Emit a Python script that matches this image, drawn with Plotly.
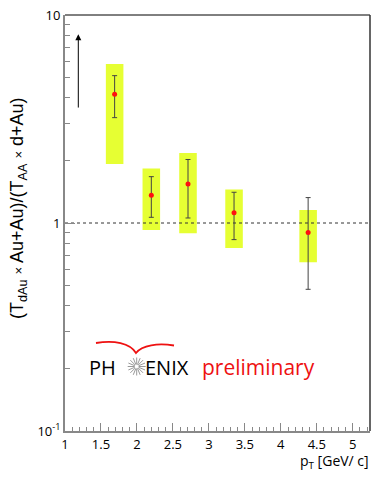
import math
import plotly.graph_objects as go

# ---- data ----
pt = [1.69, 2.20, 2.71, 3.35, 4.38]
ratio = [4.16, 1.36, 1.54, 1.12, 0.90]
stat_hi = [5.11, 1.67, 2.02, 1.405, 1.325]
stat_lo = [3.21, 1.065, 1.057, 0.832, 0.48]
sys_hi = [5.81, 1.83, 2.17, 1.45, 1.155]
sys_lo = [1.92, 0.925, 0.892, 0.758, 0.647]
arrow_x = 1.185
arrow_top = 8.08
arrow_bottom = 3.53
x_ticks = [1, 1.5, 2, 2.5, 3, 3.5, 4, 4.5, 5]
x_tick_text = ["1", "1.5", "2", "2.5", "3", "3.5", "4", "4.5", "5"]
y_ticks = [0.1, 1, 10]
y_tick_text = ["10<sup>-1</sup>", "1", "10"]

# ---- layout geometry (pixels) ----
W, H = 382, 478
L, R, T, B = 65, 12, 15, 47
PW, PH = W - L - R, H - T - B


def px(x):
    return (x - L) / PW


def py(y):
    return (H - B - y) / PH


FONT = "Open Sans"
half_w = 0.122

fig = go.Figure()

# systematic boxes
for xi, lo, hi in zip(pt, sys_lo, sys_hi):
    fig.add_trace(go.Scatter(
        x=[xi - half_w, xi + half_w, xi + half_w, xi - half_w, xi - half_w],
        y=[lo, lo, hi, hi, lo], mode="lines", fill="toself",
        fillcolor="#e6ff33", line=dict(width=0, color="#e6ff33"),
        hoverinfo="skip", showlegend=False))

# reference line at 1
fig.add_trace(go.Scatter(x=[1, 5.24], y=[1, 1], mode="lines",
                         line=dict(color="#333333", width=1, dash="3px,3px"),
                         showlegend=False, hoverinfo="skip"))

# points with stat errors
fig.add_trace(go.Scatter(
    x=pt, y=ratio, mode="markers",
    marker=dict(color="#ff1010", size=5),
    error_y=dict(type="data", symmetric=False,
                 array=[h - v for h, v in zip(stat_hi, ratio)],
                 arrayminus=[v - l for l, v in zip(stat_lo, ratio)],
                 color="#444444", thickness=1, width=2.5),
    showlegend=False))

annotations = []
# arrow
annotations.append(dict(x=arrow_x, y=math.log10(arrow_top), ax=arrow_x,
                        ay=math.log10(arrow_bottom), xref="x", yref="y",
                        axref="x", ayref="y", showarrow=True, arrowhead=2,
                        arrowsize=1.2, arrowwidth=1, arrowcolor="black", text=""))
# y title
annotations.append(dict(
    x=px(18), y=py(208), xref="paper", yref="paper", showarrow=False,
    textangle=-90, xanchor="center", yanchor="middle",
    text="(T<sub>dAu</sub> <span style='font-size:13px'>×</span> Au+Au)/(T<sub>AA</sub> <span style='font-size:13px'>×</span> d+Au)",
    font=dict(family="Liberation Sans", size=18, color="black")))
# x title
annotations.append(dict(
    x=px(371), y=py(461), xref="paper", yref="paper", showarrow=False,
    xanchor="right", yanchor="middle",
    text="p<sub>T</sub> [GeV/ c]",
    font=dict(family=FONT, size=14, color="black")))
# logo text
annotations.append(dict(x=px(87), y=py(367), xref="paper", yref="paper",
                        showarrow=False, xanchor="left", yanchor="middle",
                        text="PH", font=dict(family=FONT, size=20, color="black")))
annotations.append(dict(x=px(143), y=py(367), xref="paper", yref="paper",
                        showarrow=False, xanchor="left", yanchor="middle",
                        text="ENIX", font=dict(family=FONT, size=20, color="black")))
annotations.append(dict(x=px(200), y=py(367), xref="paper", yref="paper",
                        showarrow=False, xanchor="left", yanchor="middle",
                        text="preliminary",
                        font=dict(family=FONT, size=21, color="#ee1111")))

shapes = []
# top and right frame lines
shapes.append(dict(type="line", xref="paper", yref="paper", x0=0, x1=1, y0=1, y1=1,
                   line=dict(color="black", width=1)))
shapes.append(dict(type="line", xref="paper", yref="paper", x0=1, x1=1, y0=0, y1=1,
                   line=dict(color="#333333", width=1.5)))
# starburst
cx, cy, r = 136.7, 366.5, 9
for k in range(16):
    a = math.pi * k / 8
    shapes.append(dict(type="line", xref="paper", yref="paper",
                       x0=px(cx + 2 * math.cos(a)), y0=py(cy + 2 * math.sin(a)),
                       x1=px(cx + r * math.cos(a)), y1=py(cy + r * math.sin(a)),
                       line=dict(color="#999999", width=1)))
# red gull arc
path = "M {} {} C {} {} {} {} {} {} C {} {} {} {} {} {}".format(
    px(96), py(343), px(114), py(340), px(130), py(343), px(136), py(353),
    px(142), py(345), px(158), py(343), px(174), py(345.5))
shapes.append(dict(type="path", xref="paper", yref="paper", path=path,
                   line=dict(color="#ee1111", width=1.8)))

fig.update_layout(
    width=W, height=H, margin=dict(l=L, r=R, t=T, b=B, autoexpand=False),
    plot_bgcolor="white", paper_bgcolor="white",
    annotations=annotations, shapes=shapes,
    xaxis=dict(range=[1, 5.24], tickvals=x_ticks, ticktext=x_tick_text,
               ticks="inside", ticklen=8, tickcolor="#888888", tickwidth=1,
               showline=True, linecolor="#888888", linewidth=2,
               showgrid=False, zeroline=False, automargin=False,
               tickfont=dict(family=FONT, size=13, color="black"),
               minor=dict(ticks="inside", ticklen=4, dtick=0.1, tickcolor="#888888",
                          showgrid=False)),
    yaxis=dict(type="log", range=[-1, 1], tickvals=y_ticks, ticktext=y_tick_text,
               ticks="inside", ticklen=10, tickcolor="#888888", tickwidth=1,
               showline=True, linecolor="#888888", linewidth=2,
               showgrid=False, zeroline=False, automargin=False,
               tickfont=dict(family=FONT, size=13, color="black"),
               minor=dict(ticks="inside", ticklen=5, tickcolor="#888888",
                          tickvals=[0.2, 0.3, 0.4, 0.5, 0.6, 0.7, 0.8, 0.9,
                                    2, 3, 4, 5, 6, 7, 8, 9],
                          showgrid=False)),
)

fig.write_html("out.html", config={"displayModeBar": False},
               post_script="document.body.style.margin='0px';document.body.style.overflow='hidden';")
